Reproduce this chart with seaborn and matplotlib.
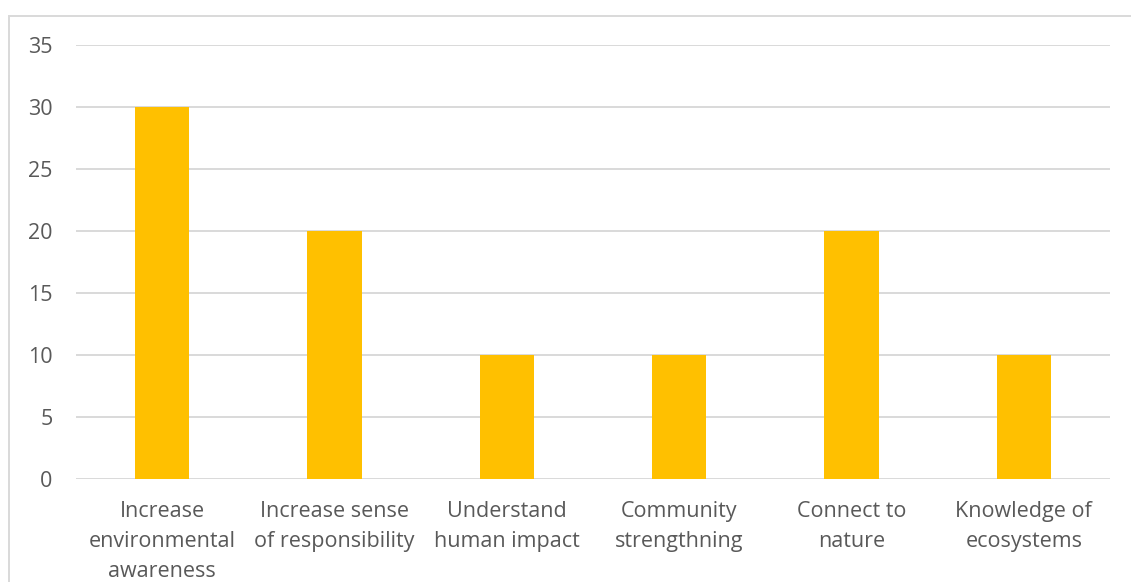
import matplotlib
matplotlib.use("Agg")
import matplotlib.pyplot as plt
import seaborn as sns
import pandas as pd
from matplotlib.patches import Rectangle

categories = [
    "Increase\nenvironmental\nawareness",
    "Increase sense\nof responsibility",
    "Understand\nhuman impact",
    "Community\nstrengthning",
    "Connect to\nnature",
    "Knowledge of\necosystems",
]
values = [30, 20, 10, 10, 20, 10]
y_ticks = [0, 5, 10, 15, 20, 25, 30, 35]

sns.set_theme(style="white")
plt.rcParams["font.family"] = ["Open Sans", "DejaVu Sans"]

W, H = 1131, 582
fig = plt.figure(figsize=(W / 100, H / 100), dpi=100)
ax = fig.add_axes([76 / W, 1 - 479 / H, (1110 - 76) / W, (479 - 45) / H])

df = pd.DataFrame({"cat": categories, "val": values})
sns.barplot(data=df, x="cat", y="val", color="#FFC000", width=0.315,
            saturation=1, linewidth=0, ax=ax, zorder=3)

ax.set_ylim(0, 35)
ax.set_yticks(y_ticks)
ax.set_xlim(-0.5, len(categories) - 0.5)
ax.grid(axis="y", color="#D9D9D9", linewidth=1.4, zorder=0)
ax.set_axisbelow(True)
for side in ("top", "right", "left", "bottom"):
    ax.spines[side].set_visible(False)
ax.set_xlabel("")
ax.set_ylabel("")
ax.tick_params(axis="y", length=0, pad=17, labelsize=15.5, labelcolor="#595959")
ax.tick_params(axis="x", length=0, pad=16, labelsize=15.5, labelcolor="#595959")
for lbl in ax.get_xticklabels():
    lbl.set_linespacing(1.56)

# outer chart frame
fig.patches.append(Rectangle((8.5 / W, -0.1), 1.2, (H - 16) / H + 0.1,
                             transform=fig.transFigure, fill=False,
                             edgecolor="#D9D9D9", linewidth=1.4))

fig.savefig("out.png", dpi=100)
